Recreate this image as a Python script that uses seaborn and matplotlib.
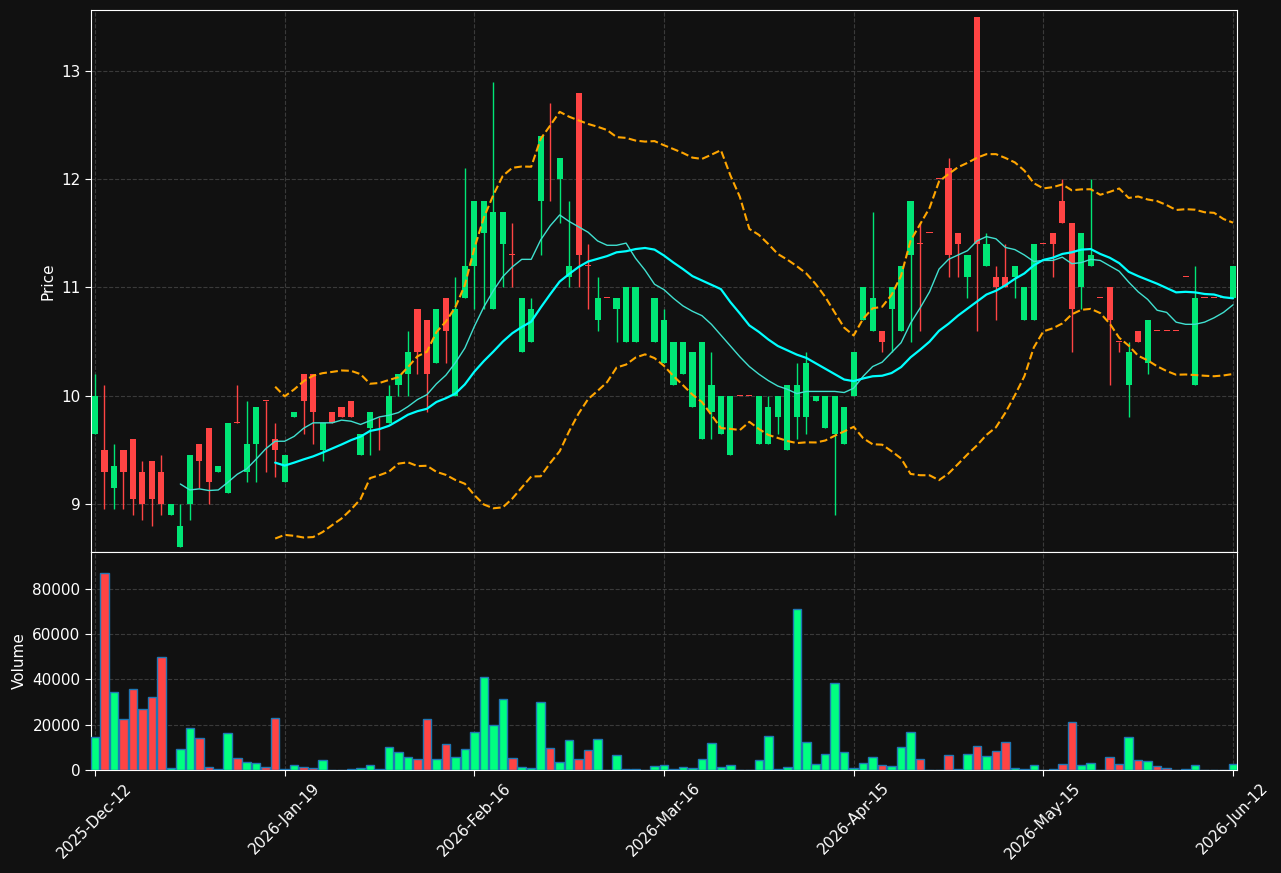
import numpy as np
import pandas as pd
import matplotlib
matplotlib.use("Agg")
import matplotlib.pyplot as plt
import seaborn as sns

opens = [9.65,9.5,9.15,9.5,9.6,9.3,9.4,9.3,8.9,8.6,9.0,9.55,9.7,9.3,9.1,9.75,9.3,9.55,9.95,9.6,
         9.2,9.8,10.2,10.2,9.5,9.85,9.9,9.95,9.45,9.7,9.8,9.75,10.1,10.2,10.8,10.7,10.3,10.9,10.0,10.9,
         11.2,11.5,10.8,11.4,11.3,10.4,10.5,11.8,12.1,12.0,11.1,12.8,11.2,10.7,10.9,10.8,10.5,10.5,11.0,10.5,
         10.3,10.1,10.2,9.9,9.6,9.85,9.65,9.45,10.0,10.0,9.55,9.55,9.8,9.5,9.8,9.8,9.95,9.7,9.65,9.55,
         10.0,10.7,10.6,10.6,10.8,10.6,11.3,11.4,11.5,12.0,12.1,11.5,11.1,13.5,11.2,11.1,11.1,11.1,10.7,10.7,
         11.4,11.5,11.8,11.6,11.0,11.2,10.9,11.0,10.5,10.1,10.6,10.3,10.6,10.6,10.6,11.1,10.1,10.9,10.9,10.9,10.9]
closes = [10.0,9.3,9.35,9.3,9.05,9.0,9.05,9.0,9.0,8.8,9.45,9.4,9.2,9.35,9.75,9.75,9.55,9.9,9.95,9.5,
          9.45,9.85,9.95,9.85,9.75,9.75,9.8,9.8,9.65,9.85,9.8,10.0,10.2,10.4,10.4,10.2,10.8,10.6,10.8,11.2,
          11.8,11.8,11.7,11.7,11.3,10.9,10.8,12.4,12.1,12.2,11.2,11.3,11.2,10.9,10.9,10.9,11.0,11.0,11.0,10.9,
          10.7,10.5,10.5,10.4,10.5,10.1,10.0,10.0,10.0,10.0,10.0,9.9,10.0,10.1,10.1,10.3,10.0,10.0,10.0,9.9,
          10.4,11.0,10.9,10.5,11.0,11.2,11.8,11.4,11.5,12.0,11.3,11.4,11.3,11.4,11.4,11.0,11.0,11.2,11.0,11.4,
          11.4,11.4,11.6,10.8,11.5,11.3,10.9,10.7,10.5,10.4,10.5,10.7,10.6,10.6,10.6,11.1,10.9,10.9,10.9,10.9,11.2]
highs = [10.2,10.1,9.55,9.5,9.6,9.4,9.4,9.45,9.0,9.0,9.45,9.55,9.7,9.35,9.75,10.1,9.95,9.9,9.95,9.75,
         9.45,9.85,10.2,10.2,9.75,9.85,9.9,9.95,9.65,9.85,9.8,10.1,10.2,10.6,10.8,10.7,10.8,10.9,11.1,12.1,
         11.8,11.8,12.9,11.7,11.6,10.9,10.9,12.4,12.7,12.2,11.8,12.8,11.4,11.1,10.9,10.9,11.0,11.0,11.0,10.9,
         10.8,10.5,10.5,10.4,10.5,10.4,10.0,10.0,10.0,10.0,10.0,10.0,10.0,10.1,10.3,10.4,10.0,10.0,10.0,9.9,
         10.4,11.0,11.7,10.6,11.0,11.2,11.8,11.6,11.5,12.0,12.2,11.5,11.3,13.5,11.5,11.2,11.4,11.2,11.0,11.4,
         11.4,11.5,12.0,11.6,11.5,12.0,10.9,11.0,10.5,10.5,10.6,10.7,10.6,10.6,10.6,11.1,11.2,10.9,10.9,10.9,11.2]
lows = [9.65,8.95,8.95,8.95,8.9,8.85,8.8,8.9,8.9,8.6,8.85,9.15,9.0,9.3,9.1,9.75,9.2,9.2,9.3,9.25,
        9.2,9.8,9.65,9.55,9.4,9.75,9.8,9.8,9.45,9.45,9.5,9.75,10.0,10.0,10.2,9.85,10.3,10.3,10.0,10.9,
        10.8,10.8,10.8,11.0,11.0,10.4,10.5,11.3,11.8,11.6,11.0,11.0,10.8,10.6,10.9,10.5,10.5,10.5,11.0,10.5,
        10.3,10.1,10.2,9.9,9.6,9.6,9.65,9.45,10.0,10.0,9.55,9.55,9.65,9.5,9.6,9.65,9.95,9.7,8.9,9.55,
        10.0,10.7,10.6,10.4,10.4,10.6,10.5,10.6,11.5,12.0,11.1,11.1,10.9,10.6,11.2,10.7,11.0,10.9,10.7,10.7,
        11.4,11.1,11.6,10.4,10.8,11.2,10.9,10.1,10.4,9.8,10.5,10.2,10.6,10.6,10.6,11.1,10.1,10.9,10.9,10.9,10.9]
volumes = [14400,86900,34300,22400,35600,26800,32100,49800,700,9100,18400,14000,1200,300,16200,5200,3400,2900,1200,22800,
           300,2100,1200,700,4300,0,0,300,700,2100,300,10000,7800,5600,4700,22400,4700,11300,5600,9100,
           16600,41000,19700,31200,5200,1200,700,29900,9600,3400,13100,4700,8700,13600,0,6500,300,300,0,1600,
           2100,300,1200,700,4700,11800,1200,2100,0,0,4300,14900,300,1200,71000,12200,2700,7100,38300,7800,
           700,2900,5600,2100,1600,10000,16600,4700,0,0,6500,300,6900,10500,6000,8200,12200,700,300,2100,
           0,300,2500,21000,2100,2900,0,5600,2500,14400,4300,3800,1600,700,0,300,2100,0,0,0,2500]
tick_positions = [0, 20, 40, 60, 80, 100, 120]
tick_labels = ["2025-Dec-12", "2026-Jan-19", "2026-Feb-16", "2026-Mar-16", "2026-Apr-15", "2026-May-15", "2026-Jun-12"]

BG = "#111111"
UP = "#00e676"
DN = "#ff4444"

df = pd.DataFrame({"o": opens, "c": closes, "h": highs, "l": lows, "v": volumes})
df["i"] = np.arange(len(df))
df["ma10"] = df["c"].rolling(10).mean()
df["ma20"] = df["c"].rolling(20).mean()
sd = df["c"].rolling(20).std()
df["bbu"] = df["ma20"] + 2 * sd
df["bbl"] = df["ma20"] - 2 * sd
up = df["c"] > df["o"]
colors = [UP if u else DN for u in up]

sns.set_style("dark", {"axes.facecolor": BG, "figure.facecolor": BG})
plt.rcParams['font.family'] = ['DejaVu Sans']

fig = plt.figure(figsize=(12.81, 8.73), dpi=100, facecolor=BG)
L, R = 91 / 1281, 1237 / 1281
ax = fig.add_axes([L, 1 - 552 / 873, R - L, (552 - 10) / 873])
axv = fig.add_axes([L, 1 - 770 / 873, R - L, (770 - 552) / 873], sharex=ax)

for a in (ax, axv):
    a.set_facecolor(BG)
    a.grid(True, color="#3a3a3a", linestyle="--", linewidth=0.8)
    for s in a.spines.values():
        s.set_color("white")
    a.tick_params(colors="white", labelsize=11, length=4, left=True, bottom=True)

body = (df["c"] - df["o"]).abs().clip(lower=0.008)
bottom = np.minimum(df["o"], df["c"])
ax.vlines(df["i"], df["l"], df["h"], colors=colors, linewidth=1, zorder=2)
ax.bar(df["i"], body, bottom=bottom, width=0.65, color=colors, linewidth=0, zorder=3)

sns.lineplot(x=df["i"], y=df["ma10"], ax=ax, color="#40e0d0", linewidth=1, zorder=4)
sns.lineplot(x=df["i"], y=df["ma20"], ax=ax, color="#00ffff", linewidth=1.6, zorder=4)
sns.lineplot(x=df["i"], y=df["bbu"], ax=ax, color="orange", linewidth=1.5, linestyle="--", zorder=4)
sns.lineplot(x=df["i"], y=df["bbl"], ax=ax, color="orange", linewidth=1.5, linestyle="--", zorder=4)

ax.set_ylim(8.557, 13.563)
ax.set_ylabel("Price", color="white", fontsize=11)
ax.set_xlabel("")
ax.tick_params(labelbottom=False)

vcolors = ["#00ff80" if u else DN for u in up]
axv.bar(df["i"], df["v"], width=0.9, color=vcolors, edgecolor="#1f77b4", linewidth=1, zorder=3)
axv.set_ylim(0, 96350)
axv.set_yticks([0, 20000, 40000, 60000, 80000])
axv.set_ylabel("Volume", color="white", fontsize=11)
axv.set_xlim(-0.42, 120.42)
axv.set_xticks(tick_positions)
axv.set_xticklabels(tick_labels, rotation=45, ha="center")
axv.set_xlabel("")

fig.savefig("out.png", dpi=100, facecolor=BG)
